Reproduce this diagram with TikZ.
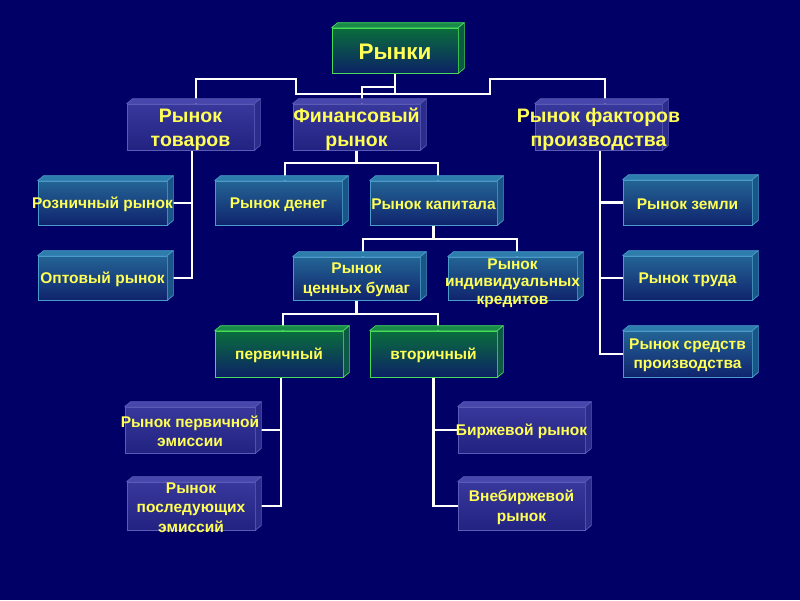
\documentclass[tikz,border=0pt]{standalone}
\usepackage{fontspec}
\setmainfont{Liberation Sans}
\pgfdeclarelayer{bg}
\pgfsetlayers{bg,main}
\definecolor{bgnavy}{HTML}{000066}
\definecolor{tyellow}{HTML}{FFFF55}
\definecolor{bluehi}{HTML}{38389C}
\definecolor{bluelo}{HTML}{222282}
\definecolor{bluetop}{HTML}{4646AC}
\definecolor{blueside}{HTML}{2C2C8C}
\definecolor{blueline}{HTML}{5A5AB8}
\definecolor{tealhi}{HTML}{236494}
\definecolor{teallo}{HTML}{10246E}
\definecolor{tealtop}{HTML}{2C7CAC}
\definecolor{tealside}{HTML}{1A5588}
\definecolor{tealline}{HTML}{4A9CC8}
\definecolor{greenhi}{HTML}{0A6E3C}
\definecolor{greenlo}{HTML}{0C2266}
\definecolor{greentop}{HTML}{1A8A4A}
\definecolor{greenside}{HTML}{0C5A44}
\definecolor{greenline}{HTML}{44DD55}
\tikzset{
  txt/.style={text=tyellow, align=center, inner sep=0pt, yshift=-1.5pt, font=\bfseries\fontsize{15.5}{19.5}\selectfont},
  txtbig/.style={txt, yshift=-1pt, font=\bfseries\fontsize{19.5}{24}\selectfont},
  txthuge/.style={txt, font=\bfseries\fontsize{22.5}{26}\selectfont},
  txttight/.style={txt, yshift=-3pt, font=\bfseries\fontsize{15.5}{17.5}\selectfont},
  conn/.style={draw=white, line width=2.2pt},
}
% #1 name, #2 type, #3 x, #4 y, #5 w, #6 h, #7 text style, #8 text
\newcommand\mkbox[8]{%
  \node[draw=#2line, line width=0.7pt, top color=#2hi, bottom color=#2lo,
        minimum width=#5pt, minimum height=#6pt, inner sep=0pt] (#1) at (#3,#4) {};
  \filldraw[draw=#2line, fill=#2top, line width=0.7pt, line join=round]
    (#1.north west) -- ++(6pt,5pt) -- ([shift={(6pt,5pt)}]#1.north east) -- (#1.north east) -- cycle;
  \filldraw[draw=#2line, fill=#2side, line width=0.7pt, line join=round]
    (#1.north east) -- ++(6pt,5pt) -- ([shift={(6pt,5pt)}]#1.south east) -- (#1.south east) -- cycle;
  \node[#7] (#1-t) at (#1.center) {#8};
}
\begin{document}
\begin{tikzpicture}[x=1pt,y=-1pt]
\useasboundingbox (0,0) rectangle (800,600);
\begin{pgfonlayer}{bg}
  \fill[bgnavy] (0,0) rectangle (800,600);
\end{pgfonlayer}

\mkbox{r}{green}{395}{50.5}{126}{45}{txthuge}{Рынки}
\mkbox{tov}{blue}{190.5}{127}{127}{46}{txtbig}{Рынок\\товаров}
\mkbox{fin}{blue}{356.5}{127}{127}{46}{txtbig}{Финансовый\\рынок}
\mkbox{fak}{blue}{598.5}{127}{127}{46}{txtbig}{Рынок факторов\\производства}

\mkbox{roz}{teal}{102.5}{203}{129}{44}{txt}{Розничный рынок}
\mkbox{opt}{teal}{102.5}{278}{129}{44}{txt}{Оптовый рынок}
\mkbox{den}{teal}{278.5}{203}{127}{44}{txt}{Рынок денег}
\mkbox{kap}{teal}{433.5}{203}{127}{44}{txt}{Рынок капитала}
\mkbox{cb}{teal}{356.5}{278.5}{127}{43}{txt}{Рынок\\ценных бумаг}
\mkbox{ind}{teal}{512.5}{278.5}{129}{43}{txttight}{Рынок\\индивидуальных\\кредитов}

\mkbox{zem}{teal}{687.5}{202.5}{129}{45}{txt}{Рынок земли}
\mkbox{tru}{teal}{687.5}{278}{129}{44}{txt}{Рынок труда}
\mkbox{srd}{teal}{687.5}{354}{129}{46}{txt}{Рынок средств\\производства}

\mkbox{perv}{green}{279}{354}{128}{46}{txt}{первичный}
\mkbox{vtor}{green}{433.5}{354}{127}{46}{txt}{вторичный}

\mkbox{pe}{blue}{190}{430}{130}{46}{txt}{Рынок первичной\\эмиссии}
\mkbox{pos}{blue}{191}{506}{128}{48}{txt}{Рынок\\последующих\\эмиссий}
\mkbox{bir}{blue}{521.5}{430}{127}{46}{txt}{Биржевой рынок}
\mkbox{vne}{blue}{521.5}{506}{127}{48}{txt}{Внебиржевой\\рынок}

\begin{pgfonlayer}{bg}
  \coordinate (rj) at (395,94);
  \draw[conn] (r.south) -- (rj);
  \draw[conn] ([xshift=5.5pt]tov.north) |- (296,79) |- (rj);
  \draw[conn] ([xshift=6.5pt]fak.north) |- (490,79) |- (rj);
  \draw[conn] ([xshift=5.5pt]fin.north) |- (395,87);

  \draw[conn] (roz.east) -| ([xshift=1.5pt]tov.south);
  \draw[conn] (opt.east) -| ([xshift=1.5pt]tov.south);

  \coordinate (finj) at (356.5,163);
  \draw[conn] (fin.south) -- (finj);
  \draw[conn] ([xshift=6.5pt]den.north) |- (finj);
  \draw[conn] ([xshift=4.5pt]kap.north) |- (finj);

  \coordinate (kapj) at (433.5,239);
  \draw[conn] (kap.south) -- (kapj);
  \draw[conn] ([xshift=6.5pt]cb.north) |- (kapj);
  \draw[conn] ([xshift=4.5pt]ind.north) |- (kapj);

  \coordinate (cbj) at (356.5,314);
  \draw[conn] (cb.south) -- (cbj);
  \draw[conn] ([xshift=4pt]perv.north) |- (cbj);
  \draw[conn] ([xshift=4.5pt]vtor.north) |- (cbj);

  \draw[conn] (pe.east) -| ([xshift=2pt]perv.south);
  \draw[conn] (pos.east) -| ([xshift=2pt]perv.south);
  \draw[conn] (bir.west) -| (vtor.south);
  \draw[conn] (vne.west) -| (vtor.south);

  \draw[conn] (zem.west) -| ([xshift=1.5pt]fak.south);
  \draw[conn] (tru.west) -| ([xshift=1.5pt]fak.south);
  \draw[conn] (srd.west) -| ([xshift=1.5pt]fak.south);
\end{pgfonlayer}
\end{tikzpicture}
\end{document}
